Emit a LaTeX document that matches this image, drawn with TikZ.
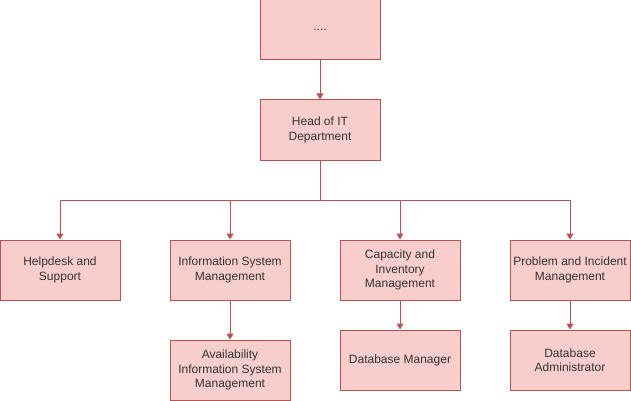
\documentclass[tikz,border=0pt]{standalone}
\usepackage{fontspec}
\setmainfont{Liberation Sans}
\usetikzlibrary{arrows.meta}
\definecolor{boxfill}{HTML}{F8CECC}
\definecolor{boxline}{HTML}{B85450}

\begin{document}
\begin{tikzpicture}[x=1pt,y=1pt,font=\fontsize{12}{14.3}\selectfont,
	unit/.style={draw=boxline,fill=boxfill,line width=1pt,minimum width=120pt,minimum height=60pt,align=center,inner sep=1pt,text=black!80},
	link/.style={draw=boxline,line width=1pt,-{Triangle[width=7pt,length=6pt]}}]
					\useasboundingbox (0,0) rectangle (631,-401);
					\node[unit] (top) at (320,-30) {....};
					\node[unit] (head) at (320,-130) {Head of IT\\Department};
					\coordinate (bus) at (320,-200);
					% first row
					\node[unit] (help) at (60,-270) {Helpdesk and\\Support};
					\node[unit] (ism) at (230,-270) {Information System\\Management};
					\node[unit] (cim) at (400,-270) {Capacity and\\Inventory\\Management};
					\node[unit] (pim) at (570,-270) {Problem and Incident\\Management};
					% second row
					\node[unit] (avail) at (230,-370) {Availability\\Information System\\Management};
					\node[unit] (dbm) at (400,-360) {Database Manager};
					\node[unit] (dba) at (570,-360) {Database\\Administrator};
					\draw[link] (top) -- (head);
					\foreach \unitname in {help,ism,cim,pim} {
						\draw[link] (head.south) -- (bus) -| (\unitname.north);
					}
					\draw[link] (ism) -- (avail);
					\draw[link] (cim) -- (dbm);
					\draw[link] (pim) -- (dba);
				\end{tikzpicture}
\end{document}
